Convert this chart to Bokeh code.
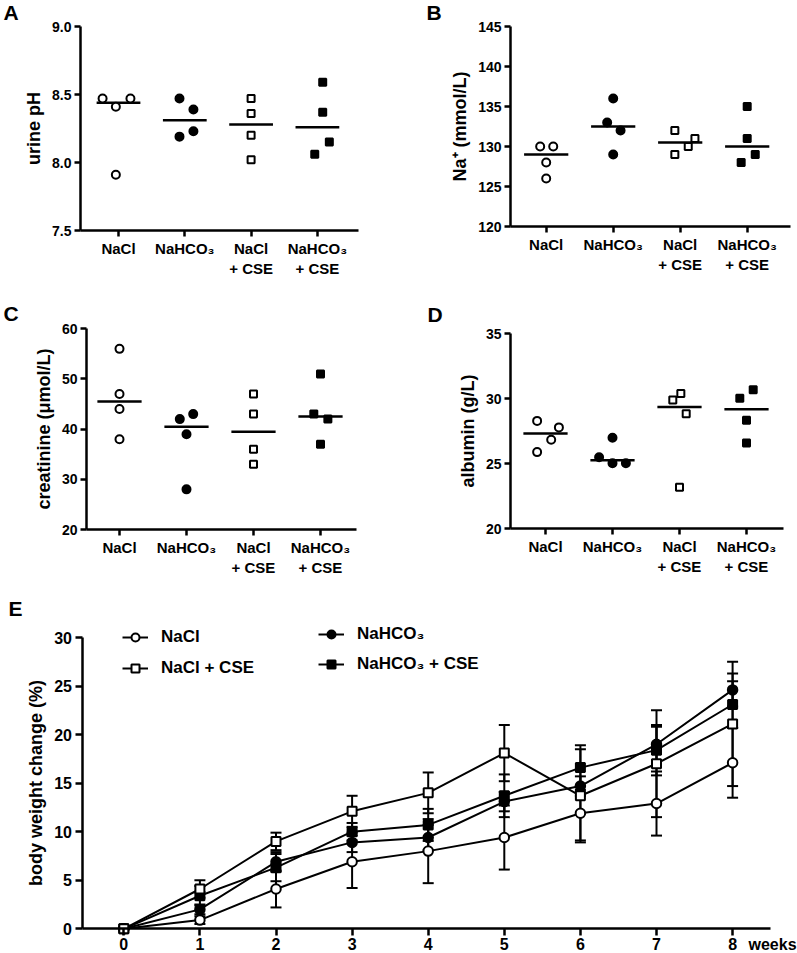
import numpy as np
from bokeh.plotting import figure
from bokeh.models import (Range1d, FixedTicker, Label, Legend, LegendItem,
                          Whisker, TeeHead, ColumnDataSource, NumeralTickFormatter)
from bokeh.layouts import column, row
from bokeh.embed import file_html
from bokeh.resources import INLINE

FONT = "Liberation Sans"

# ---------------- data ----------------
group_labels = ["NaCl", "NaHCO₃", "NaCl\n+ CSE", "NaHCO₃\n+ CSE"]
group_marker = ["circle", "circle", "square", "square"]
group_fill = ["white", "black", "white", "black"]

# A: urine pH
ph_nacl = [8.47, 8.41, 8.47, 7.91]
ph_nahco3 = [8.47, 8.39, 8.23, 8.19]
ph_nacl_cse = [8.47, 8.36, 8.20, 8.02]
ph_nahco3_cse = [8.59, 8.37, 8.15, 8.06]
ph_jitter = [[-0.24, -0.04, 0.18, -0.04], [-0.08, 0.13, 0.13, -0.08],
             [0, 0, 0, 0], [0.08, 0.08, 0.18, -0.04]]
ph_ticks = [7.5, 8.0, 8.5, 9.0]

# B: Na+ (mmol/L)
na_nacl = [130, 130, 128, 126]
na_nahco3 = [136, 133, 132, 129]
na_nacl_cse = [132, 131, 130, 129]
na_nahco3_cse = [135, 131, 129, 128]
na_jitter = [[-0.09, 0.105, 0, 0], [0, -0.09, 0.11, 0],
             [-0.08, 0.22, 0.12, -0.08], [0, 0, 0.12, -0.09]]
na_ticks = [120, 125, 130, 135, 140, 145]

# C: creatinine (umol/L)
cr_nacl = [56, 47, 44, 38]
cr_nahco3 = [42, 43, 39, 28]
cr_nacl_cse = [47, 43, 36, 33]
cr_nahco3_cse = [51, 43, 42, 37]
cr_jitter = [[0, 0, 0, 0], [-0.1, 0.1, 0, 0], [0, 0, 0, 0], [0, -0.1, 0.11, 0]]
cr_ticks = [20, 30, 40, 50, 60]

# D: albumin (g/L)
alb_nacl = [28.3, 27.8, 26.85, 25.9]
alb_nahco3 = [27.0, 25.5, 25.05, 25.05]
alb_nacl_cse = [30.4, 29.9, 28.85, 23.2]
alb_nahco3_cse = [30.7, 30.05, 28.35, 26.6]
alb_jitter = [[-0.125, 0.2, 0.085, -0.125], [0, -0.2, 0, 0.2],
              [0.02, -0.1, 0.1, 0], [0.1, -0.1, 0, 0]]
alb_ticks = [20, 25, 30, 35]

# E: body weight change (%)
weeks = [0, 1, 2, 3, 4, 5, 6, 7, 8]
bw_nacl = [0, 0.9, 4.1, 6.9, 8.0, 9.4, 11.9, 12.9, 17.1]
bw_nacl_err = [0, 0.4, 1.9, 2.7, 3.3, 3.3, 2.8, 3.3, 3.6]
bw_nahco3 = [0, 2.0, 6.9, 8.9, 9.4, 13.1, 14.7, 19.0, 24.6]
bw_nahco3_err = [0, 0.5, 1.0, 1.0, 1.3, 1.0, 1.0, 1.8, 1.7]
bw_nacl_cse = [0, 4.1, 9.0, 12.1, 14.0, 18.1, 13.7, 17.0, 21.1]
bw_nacl_cse_err = [0, 0.9, 0.9, 1.6, 2.1, 2.9, 4.8, 5.5, 6.4]
bw_nahco3_cse = [0, 3.4, 6.3, 10.0, 10.7, 13.7, 16.6, 18.4, 23.1]
bw_nahco3_cse_err = [0, 1.0, 1.4, 0.9, 1.65, 2.2, 2.3, 2.6, 2.4]
bw_yticks = [0, 5, 10, 15, 20, 25, 30]
bw_xmax = 8.5


# ---------------- helpers ----------------
class PanelMap:
    """Linear page-pixel <-> data mapping for one panel (figure box + axis anchors)."""

    def __init__(self, box, x_anchor, x_step, y_lo, y_hi, py_lo, py_hi):
        self.fx, self.fy, self.fw, self.fh = box
        self.x_anchor, self.x_step = x_anchor, x_step
        self.y_lo, self.y_hi, self.py_lo, self.py_hi = y_lo, y_hi, py_lo, py_hi

    def x(self, px):
        return (px - self.x_anchor) / self.x_step

    def y(self, py):
        return self.y_lo + (self.py_lo - py) * (self.y_hi - self.y_lo) / (self.py_lo - self.py_hi)

    def xr(self):
        return (self.x(self.fx), self.x(self.fx + self.fw))

    def yr(self):
        return (self.y(self.fy + self.fh), self.y(self.fy))


def make_fig(m):
    p = figure(width=m.fw, height=m.fh,
               x_range=Range1d(*m.xr()), y_range=Range1d(*m.yr()),
               output_backend="svg", toolbar_location=None,
               min_border_left=0, min_border_right=0,
               min_border_top=0, min_border_bottom=0)
    p.outline_line_color = None
    p.xgrid.visible = False
    p.ygrid.visible = False
    p.background_fill_color = "white"
    p.border_fill_color = "white"
    return p


def style_axis(ax, tick_size, label_size, tick_out=6):
    ax.axis_line_width = 2.5
    ax.axis_line_color = "black"
    ax.major_tick_line_width = 2.5
    ax.major_tick_line_color = "black"
    ax.major_tick_out = tick_out
    ax.major_tick_in = 0
    ax.minor_tick_line_color = None
    ax.major_label_text_font = FONT
    ax.major_label_text_font_style = "bold"
    ax.major_label_text_font_size = tick_size
    ax.major_label_text_color = "black"
    ax.axis_label_text_font = FONT
    ax.axis_label_text_font_style = "bold"
    ax.axis_label_text_font_size = label_size
    ax.axis_label_text_color = "black"


def add_text(p, m, px, py, text, size, align="left", baseline="middle"):
    p.add_layout(Label(x=m.x(px), y=m.y(py), text=text, text_font=FONT,
                       text_font_style="bold", text_font_size=size,
                       text_align=align, text_baseline=baseline, text_color="black"))


def scatter_panel(series, jitters, box, axL, axR, axT, axB, c0, step,
                  yr, yticks, ylabel, letter, letter_px, yfmt=None):
    m = PanelMap(box, c0, step, yr[0], yr[1], axB, axT)
    p = make_fig(m)
    for i, (vals, jit) in enumerate(zip(series, jitters)):
        med = float(np.median(vals))
        p.segment(x0=[i - 0.33], y0=[med], x1=[i + 0.33], y1=[med],
                  line_width=2.5, line_color="black")
        xs = [i + j for j in jit]
        size = 8 if group_marker[i] == "circle" else 7
        p.scatter(xs, vals, marker=group_marker[i], size=size,
                  fill_color=group_fill[i], line_color="black", line_width=2)
    xa, ya = p.xaxis[0], p.yaxis[0]
    xa.fixed_location = yr[0]
    xa.bounds = (m.x(axL), m.x(axR))
    xa.ticker = FixedTicker(ticks=[0, 1, 2, 3])
    xa.major_label_overrides = {i: lab for i, lab in enumerate(group_labels)}
    xa.major_label_standoff = 3
    ya.fixed_location = m.x(axL)
    ya.bounds = yr
    ya.ticker = FixedTicker(ticks=yticks)
    if yfmt:
        ya.formatter = NumeralTickFormatter(format=yfmt)
    ya.major_label_standoff = 3
    ya.axis_label = ylabel
    ya.axis_label_standoff = 5
    style_axis(xa, "15px", "18px")
    style_axis(ya, "14px", "18px")
    add_text(p, m, letter_px[0], letter_px[1], letter, "21px")
    return p


# ---------------- panels A-D ----------------
pA = scatter_panel([ph_nacl, ph_nahco3, ph_nacl_cse, ph_nahco3_cse], ph_jitter,
                   (0, 0, 400, 285), 80, 358, 26, 230, 118, 66.3,
                   (7.5, 9.0), ph_ticks, "urine pH", "A", (3, 11.5), yfmt="0.0")
pB = scatter_panel([na_nacl, na_nahco3, na_nacl_cse, na_nahco3_cse], na_jitter,
                   (400, 0, 397, 285), 510, 790, 26, 226, 545.7, 67,
                   (120, 145), na_ticks, "Na⁺ (mmol/L)", "B", (426, 12))
pC = scatter_panel([cr_nacl, cr_nahco3, cr_nacl_cse, cr_nahco3_cse], cr_jitter,
                   (0, 285, 400, 290), 86, 356, 328.3, 529, 119, 67,
                   (20, 60), cr_ticks, "creatinine (μmol/L)", "C", (3, 312.5))
pD = scatter_panel([alb_nacl, alb_nahco3, alb_nacl_cse, alb_nahco3_cse], alb_jitter,
                   (400, 285, 397, 290), 510, 783, 333.3, 528.3, 545, 67,
                   (20, 35), alb_ticks, "albumin (g/L)", "D", (427, 313.5))

# ---------------- panel E ----------------
eL, eT, eB = 81.5, 637, 928.3
mE = PanelMap((0, 575, 797, 377), 123.3, 76.1, 0, 30, eB, eT)
pE = make_fig(mE)

e_series = [
    ("NaHCO₃", bw_nahco3, bw_nahco3_err, "circle", "black"),
    ("NaHCO₃ + CSE", bw_nahco3_cse, bw_nahco3_cse_err, "square", "black"),
    ("NaCl", bw_nacl, bw_nacl_err, "circle", "white"),
    ("NaCl + CSE", bw_nacl_cse, bw_nacl_cse_err, "square", "white"),
]
rend = {}
for name, vals, errs, mk, fc in e_series:
    src = ColumnDataSource(dict(
        x=weeks, y=vals,
        upper=[v + e for v, e in zip(vals, errs)],
        lower=[v - e for v, e in zip(vals, errs)]))
    w = Whisker(source=src, base="x", upper="upper", lower="lower",
                line_width=2, line_color="black", level="underlay",
                upper_head=TeeHead(size=11, line_width=2, line_color="black"),
                lower_head=TeeHead(size=11, line_width=2, line_color="black"))
    pE.add_layout(w)
    lr = pE.line("x", "y", source=src, line_width=2, line_color="black")
    sr = pE.scatter("x", "y", source=src, marker=mk, size=9.5 if mk == "circle" else 9,
                    fill_color=fc, line_color="black", line_width=2)
    rend[name] = [lr, sr]

xa, ya = pE.xaxis[0], pE.yaxis[0]
xa.fixed_location = 0
xa.bounds = (mE.x(eL), bw_xmax)
xa.ticker = FixedTicker(ticks=weeks)
xa.major_label_standoff = 2
ya.fixed_location = mE.x(eL)
ya.bounds = (0, 30)
ya.ticker = FixedTicker(ticks=bw_yticks)
ya.major_label_standoff = 3
ya.axis_label = "body weight change (%)"
ya.axis_label_standoff = 6
style_axis(xa, "16px", "18px", tick_out=7)
style_axis(ya, "16px", "18px", tick_out=7)


def make_legend(names, left_px, top_px, spacing):
    items = [LegendItem(label=n, renderers=rend[n]) for n in names]
    h = 20 * len(names) + spacing * (len(names) - 1)
    lg = Legend(items=items,
                location=(left_px - mE.fx, (mE.fy + mE.fh) - (top_px + h)),
                orientation="vertical", padding=0, margin=0, spacing=spacing,
                glyph_width=26, glyph_height=20, label_height=20,
                label_standoff=13, border_line_color=None,
                background_fill_alpha=0,
                label_text_font=FONT, label_text_font_style="bold",
                label_text_font_size="17px", label_text_color="black")
    pE.add_layout(lg)


make_legend(["NaCl", "NaCl + CSE"], 122, 627, 11)
make_legend(["NaHCO₃", "NaHCO₃ + CSE"], 318, 624, 10)

add_text(pE, mE, 748, 944, "weeks", "16px")
add_text(pE, mE, 8, 608, "E", "21px")

layout = column(row(pA, pB, spacing=0), row(pC, pD, spacing=0), pE, spacing=0)
open("out.html", "w").write(file_html(layout, INLINE))
